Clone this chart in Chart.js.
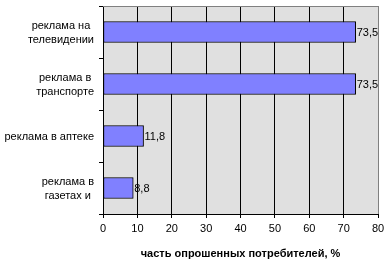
<!DOCTYPE html>
<html>
<head>
<meta charset="utf-8">
<script src="https://cdn.jsdelivr.net/npm/chart.js@4/dist/chart.umd.min.js"></script>
<style>
    html, body { margin: 0; padding: 0; background: #ffffff; }
    #chart { display: block; }
</style>
</head>
<body>
<canvas id="chart" width="387" height="261"></canvas>
<script>
const categories = [
    ['реклама на', 'телевидении'],
    ['реклама в', 'транспорте'],
    'реклама в аптеке',
    ['реклама в', 'газетах и']
];
const shares = [73.5, 73.5, 11.8, 8.8];
const axisTitle = 'часть опрошенных потребителей, %';

const fontFamily = 'Arial, "Liberation Sans", sans-serif';

// grey plot background + grey top border
const plotBackground = {
    id: 'plotBackground',
    beforeDraw(chart) {
        const a = chart.chartArea;
        const ctx = chart.ctx;
        ctx.save();
        ctx.fillStyle = '#e0e0e0';
        ctx.fillRect(a.left, a.top, a.right - a.left, a.bottom - a.top);
        ctx.restore();
    },
    afterDraw(chart) {
        const a = chart.chartArea;
        const ctx = chart.ctx;
        ctx.save();
        ctx.strokeStyle = '#808080';
        ctx.lineWidth = 1;
        ctx.beginPath();
        ctx.moveTo(a.left, a.top + 0.5);
        ctx.lineTo(a.right, a.top + 0.5);
        ctx.stroke();
        ctx.restore();
    }
};

// category labels: block right-aligned to the axis, lines centred inside the block
const categoryLabels = {
    id: 'categoryLabels',
    afterDraw(chart) {
        const ctx = chart.ctx;
        const y = chart.scales.y;
        const right = chart.chartArea.left - 9;
        const lineH = 14;
        ctx.save();
        ctx.font = '11px ' + fontFamily;
        ctx.fillStyle = '#000000';
        ctx.textAlign = 'center';
        ctx.textBaseline = 'middle';
        categories.forEach((lab, i) => {
            const lines = Array.isArray(lab) ? lab : [lab];
            const w = Math.max(...lines.map(l => ctx.measureText(l).width));
            const cx = right - w / 2;
            const cy = y.getPixelForValue(i) + 1;
            lines.forEach((l, j) => {
                ctx.fillText(l, cx, cy + (j - (lines.length - 1) / 2) * lineH);
            });
        });
        ctx.restore();
    }
};

// value labels to the right of each bar
const valueLabels = {
    id: 'valueLabels',
    afterDatasetsDraw(chart) {
        const ctx = chart.ctx;
        const meta = chart.getDatasetMeta(0);
        ctx.save();
        ctx.font = '11px ' + fontFamily;
        ctx.fillStyle = '#000000';
        ctx.textAlign = 'left';
        ctx.textBaseline = 'middle';
        meta.data.forEach((bar, i) => {
            const txt = shares[i].toFixed(1).replace('.', ',');
            ctx.fillText(txt, bar.x + 1, bar.y + 1);
        });
        ctx.restore();
    }
};

new Chart(document.getElementById('chart').getContext('2d'), {
    type: 'bar',
    data: {
        labels: categories,
        datasets: [{
            data: shares,
            backgroundColor: '#8080ff',
            borderColor: '#000000',
            borderWidth: 1,
            borderSkipped: false,
            barThickness: 21
        }]
    },
    options: {
        indexAxis: 'y',
        responsive: false,
        animation: false,
        layout: { padding: { top: 6, right: 9, left: 0, bottom: 0 } },
        plugins: {
            legend: { display: false },
            tooltip: { enabled: false }
        },
        scales: {
            x: {
                min: 0,
                max: 80,
                ticks: {
                    stepSize: 10,
                    color: '#000000',
                    padding: 4,
                    font: { family: fontFamily, size: 11 }
                },
                grid: {
                    color: c => (c.tick && c.tick.value === 80) ? '#808080' : '#000000',
                    tickColor: '#000000',
                    tickLength: 4,
                    lineWidth: 1
                },
                border: { color: '#000000' },
                title: {
                    display: true,
                    text: axisTitle,
                    color: '#000000',
                    padding: { top: 3, bottom: 0 },
                    font: { family: fontFamily, size: 11, weight: 'bold' }
                },
                afterFit(scale) {
                    scale.height = 47;
                    scale.paddingLeft = 0;
                    scale.paddingRight = 0;
                }
            },
            y: {
                ticks: { display: false },
                grid: {
                    offset: true,
                    drawOnChartArea: false,
                    drawTicks: true,
                    tickLength: 4,
                    color: '#000000'
                },
                border: { color: '#000000' },
                afterFit(scale) {
                    scale.width = 103;
                    scale.paddingTop = 0;
                    scale.paddingBottom = 0;
                }
            }
        }
    },
    plugins: [plotBackground, categoryLabels, valueLabels]
});
</script>
</body>
</html>
